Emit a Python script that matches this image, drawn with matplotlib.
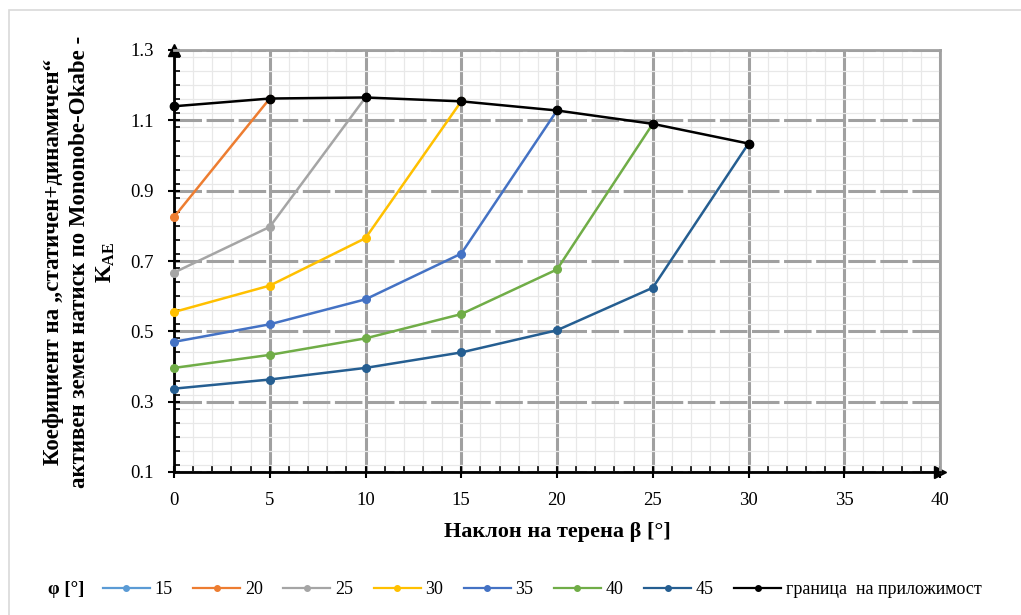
import matplotlib
matplotlib.use("Agg")
import matplotlib.pyplot as plt
from matplotlib.lines import Line2D
from matplotlib.patches import Rectangle
from matplotlib.ticker import MultipleLocator

plt.rcParams['font.family'] = ['Liberation Serif', 'DejaVu Serif']
plt.rcParams['mathtext.default'] = 'regular'

# data: beta [deg] -> K_AE for each phi
beta = [0, 5, 10, 15, 20, 25, 30]
phi_labels = ['15', '20', '25', '30', '35', '40', '45']
k_15 = [1.14]
k_20 = [0.825, 1.162]
k_25 = [0.667, 0.797, 1.165]
k_30 = [0.555, 0.630, 0.765, 1.154]
k_35 = [0.470, 0.520, 0.591, 0.721, 1.128]
k_40 = [0.396, 0.433, 0.480, 0.549, 0.676, 1.090]
k_45 = [0.337, 0.363, 0.396, 0.440, 0.503, 0.624, 1.034]
boundary = [1.14, 1.162, 1.165, 1.154, 1.128, 1.090, 1.034]
series = [k_15, k_20, k_25, k_30, k_35, k_40, k_45]
colors = ['#5B9BD5', '#ED7D31', '#A5A5A5', '#FFC000', '#4472C4', '#70AD47', '#255E91']

fig = plt.figure(figsize=(10.21, 6.15), dpi=100)
ax = fig.add_axes([174/1021, 1 - 472/615, (940 - 174)/1021, (472 - 50)/615])

# outer light frame
fig.patches.append(Rectangle((9/1021, -0.1), 1.2, 1.1 - 10/615, transform=fig.transFigure,
                             fill=False, edgecolor='#d9d9d9', linewidth=1.2))

ax.set_xlim(0, 40)
ax.set_ylim(0.1, 1.3)
ax.xaxis.set_major_locator(MultipleLocator(5))
ax.xaxis.set_minor_locator(MultipleLocator(1))
ax.set_yticks([0.1, 0.3, 0.5, 0.7, 0.9, 1.1, 1.3])
ax.yaxis.set_minor_locator(MultipleLocator(0.04))

# grids
ax.grid(which='minor', color='#e8e8e8', linewidth=0.9)
ax.xaxis.grid(which='major', color='#a0a0a0', linewidth=2.2)
ax.yaxis.grid(which='major', color='#a0a0a0', linewidth=2.2, linestyle=(0, (9, 1.5)))
ax.set_axisbelow(True)

for s in ['left', 'bottom']:
    ax.spines[s].set_linewidth(2)
    ax.spines[s].set_color('black')
for s in ['top', 'right']:
    ax.spines[s].set_linewidth(2)
    ax.spines[s].set_color('#a0a0a0')

ax.tick_params(which='major', direction='inout', length=9, width=1.5, labelsize=13.5)
ax.tick_params(which='minor', direction='in', length=4, width=1.2)
ax.tick_params(axis='y', pad=10)
ax.tick_params(axis='x', pad=10)

# arrows at axis ends
ax.plot(1, 0, '>k', markersize=8, transform=ax.transAxes, clip_on=False)
ax.plot(0, 1, '^k', markersize=8, transform=ax.transAxes, clip_on=False)

handles = []
for vals, c, lab in zip(series, colors, phi_labels):
    ax.plot(beta[:len(vals)], vals, '-o', color=c, linewidth=1.8, markersize=5.5,
            clip_on=False, zorder=3)
    handles.append(Line2D([], [], color=c, marker='o', linewidth=1.6, markersize=4, label=lab))
ax.plot(beta, boundary, '-o', color='black', linewidth=1.8, markersize=6, zorder=4, clip_on=False)
handles.append(Line2D([], [], color='black', marker='o', linewidth=1.6, markersize=4,
                      label='граница  на приложимост'))

ax.set_xlabel('Наклон на терена β [°]', fontsize=16, fontweight='bold', labelpad=9)
fig.text(80/1021, 1 - 262/615,
         'Коефициент на „статичен+динамичен“\nактивен земен натиск по Mononobe-Okabe -\nK$_{AE}$',
         rotation=90, ha='center', va='center', fontsize=16.5, fontweight='bold',
         linespacing=1.3)

fig.text(48/1021, 1 - 590/615, 'φ [°]', fontsize=13.5, fontweight='bold', ha='left', va='center')
fig.legend(handles=handles, loc='center left', bbox_to_anchor=(103/1021, 1 - 590/615), ncol=8,
           frameon=False, fontsize=13, handlelength=2.6, handletextpad=0.25, columnspacing=1.15,
           borderpad=0, borderaxespad=0)

fig.savefig('out.png', dpi=100)
